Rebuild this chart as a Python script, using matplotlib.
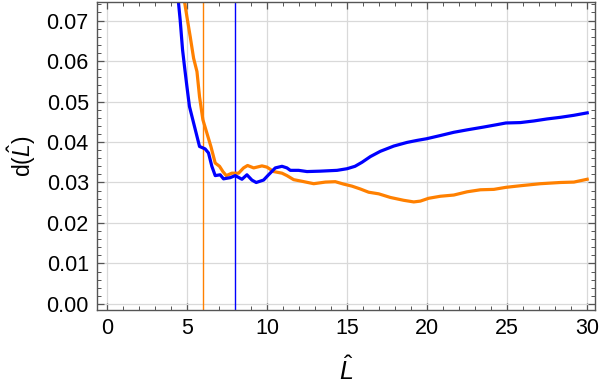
import matplotlib.pyplot as plt
from matplotlib.ticker import MultipleLocator, FormatStrFormatter

# blue curve
L_blue = [4.45, 4.58, 4.73, 4.85, 5.0, 5.16, 5.37, 5.58, 5.79, 6.14, 6.35, 6.56, 6.77,
          7.08, 7.29, 7.71, 8.02, 8.44, 8.75, 9.06, 9.33, 9.79, 10.1, 10.52, 10.94,
          11.25, 11.46, 11.98, 12.5, 13.33, 14.38, 15.0, 15.5, 15.94, 16.46, 17.08,
          17.92, 18.75, 19.38, 19.96, 20.83, 21.67, 22.5, 23.54, 24.38, 24.92, 25.83,
          26.67, 27.5, 28.33, 29.17, 30.0]
d_blue = [0.0755, 0.0702, 0.0628, 0.0587, 0.0538, 0.0488, 0.0455, 0.0422, 0.0389,
          0.0383, 0.0373, 0.0340, 0.0317, 0.0319, 0.0309, 0.0312, 0.0317, 0.0308,
          0.0319, 0.0306, 0.0300, 0.0306, 0.0319, 0.0336, 0.0340, 0.0336, 0.0330,
          0.0330, 0.0327, 0.0328, 0.0330, 0.0334, 0.0340, 0.0350, 0.0364, 0.0377,
          0.0390, 0.0399, 0.0404, 0.0408, 0.0416, 0.0424, 0.0430, 0.0437, 0.0443,
          0.0447, 0.0448, 0.0452, 0.0457, 0.0461, 0.0466, 0.0472]

# orange curve
L_orange = [4.82, 5.0, 5.21, 5.42, 5.63, 5.79, 6.0, 6.25, 6.5, 6.77, 7.04, 7.25, 7.46,
            7.81, 8.23, 8.54, 8.79, 9.17, 9.69, 10.0, 10.42, 10.94, 11.25, 11.67,
            12.19, 12.92, 13.65, 14.27, 14.79, 15.31, 15.83, 16.35, 16.98, 17.71,
            18.54, 19.17, 19.58, 20.1, 20.83, 21.67, 22.5, 23.33, 24.17, 24.92,
            25.83, 27.08, 28.33, 29.17, 30.0]
d_orange = [0.0755, 0.0710, 0.0660, 0.0607, 0.0574, 0.0512, 0.0455, 0.0422, 0.0389,
            0.0348, 0.0340, 0.0327, 0.0317, 0.0323, 0.0323, 0.0336, 0.0342, 0.0336,
            0.0341, 0.0338, 0.0327, 0.0323, 0.0317, 0.0307, 0.0303, 0.0297, 0.0301,
            0.0302, 0.0296, 0.0291, 0.0284, 0.0276, 0.0272, 0.0263, 0.0256, 0.0252,
            0.0254, 0.0261, 0.0266, 0.0269, 0.0277, 0.0282, 0.0283, 0.0288, 0.0292,
            0.0297, 0.0300, 0.0301, 0.0308]

vline_orange = 6.0
vline_blue = 8.0

BLUE = "#0000ff"
ORANGE = "#ff8000"

plt.rcParams['font.family'] = ['Liberation Sans', 'DejaVu Sans']
plt.rcParams['mathtext.fontset'] = 'custom'
plt.rcParams['mathtext.rm'] = 'Liberation Sans'
plt.rcParams['mathtext.it'] = 'Liberation Sans:italic'

fig = plt.figure(figsize=(6, 3.88), dpi=100)
ax = fig.add_axes([0.162, 0.201, 0.830, 0.794])

ax.grid(True, which='major', color='#d9d9d9', linewidth=0.9)
ax.set_axisbelow(True)

ax.axvline(vline_orange, color=ORANGE, linewidth=1.0)
ax.axvline(vline_blue, color=BLUE, linewidth=1.0)
ax.plot(L_orange, d_orange, color=ORANGE, linewidth=2.3)
ax.plot(L_blue, d_blue, color=BLUE, linewidth=2.3)

ax.set_xlim(-0.6, 30.5)
ax.set_ylim(-0.0015, 0.0746)

ax.xaxis.set_major_locator(MultipleLocator(5))
ax.xaxis.set_minor_locator(MultipleLocator(1))
ax.yaxis.set_major_locator(MultipleLocator(0.01))
ax.yaxis.set_minor_locator(MultipleLocator(0.002))
ax.yaxis.set_major_formatter(FormatStrFormatter('%.2f'))

for s in ax.spines.values():
    s.set_color('#555555')
    s.set_linewidth(1.0)
ax.tick_params(which='both', direction='in', top=True, right=True, color='#555555',
               labelsize=15.5, labelcolor='black')
ax.tick_params(which='major', length=5, width=0.9, pad=6)
ax.tick_params(which='minor', length=3, width=0.7)

ax.set_xlabel(r'$\hat{L}$', fontsize=18, labelpad=12)
ax.set_ylabel(r'd($\hat{L}$)', fontsize=16.5, labelpad=6)

fig.savefig('out.png', dpi=100)
